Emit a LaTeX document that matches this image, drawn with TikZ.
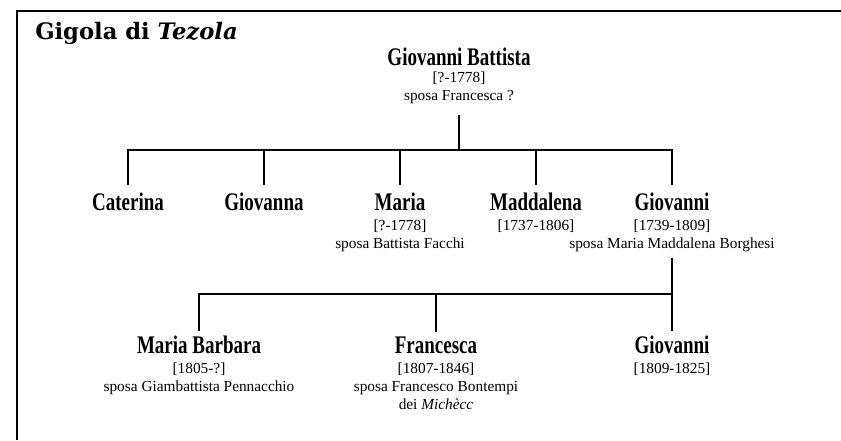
\documentclass[tikz,border=0pt]{standalone}
\usepackage{fontspec}
\newfontfamily\titlefam{DejaVu Serif}
\newfontfamily\namefam{Liberation Serif}[FakeStretch=0.75]
\newfontfamily\infofam{Liberation Serif}

\begin{document}
\begin{tikzpicture}[
    x=0.75pt, y=-0.75pt,
    title/.style={font=\titlefam\bfseries\fontsize{17}{20}\selectfont, inner sep=0pt, anchor=base west},
    person/.style={font=\namefam\bfseries\fontsize{19}{21}\selectfont, inner sep=0pt, anchor=base},
    info/.style={font=\infofam\fontsize{11.5}{13.5}\selectfont, align=center, inner sep=0pt, anchor=north},
    link/.style={draw, line width=0.8pt},
    frame/.style={draw, line width=1.1pt}
]
\useasboundingbox (0,0) rectangle (841,440);

% Frame and title
\draw[frame] (841,11) -- (17,11) -- (17,440);
\node[title] (heading) at (35,39) {Gigola di \textit{Tezola}};

% First generation
\node[person] (gb) at (459,65) {Giovanni Battista};
\node[info] (gbinfo) at (459,71.5) {[?-1778]\\sposa Francesca ?};

% Second generation
\node[person] (caterina) at (128,210) {Caterina};
\node[person] (giovanna) at (264,210) {Giovanna};
\node[person] (maria) at (400,210) {Maria};
\node[person] (maddalena) at (536,210) {Maddalena};
\node[person] (giovanni) at (672,210) {Giovanni};
\node[info] (mariainfo) at (400,219.5) {[?-1778]\\sposa Battista Facchi};
\node[info] (maddalenainfo) at (536,219.5) {[1737-1806]};
\node[info] (giovanniinfo) at (672,219.5) {[1739-1809]\\sposa Maria Maddalena Borghesi};

% Third generation
\node[person] (barbara) at (199,353) {Maria Barbara};
\node[person] (francesca) at (436,353) {Francesca};
\node[person] (giovannijr) at (672,353) {Giovanni};
\node[info] (barbarainfo) at (199,362.5) {[1805-?]\\sposa Giambattista Pennacchio};
\node[info] (francescainfo) at (436,362.5) {[1807-1846]\\sposa Francesco Bontempi\\dei \textit{Michècc}};
\node[info] (giovannijrinfo) at (672,362.5) {[1809-1825]};

% Fork points
\coordinate (fork1) at (459,150);
\coordinate (fork2) at (672,294);

% Children of Giovanni Battista
\draw[link, shorten <=8pt] (gbinfo.south) -- (fork1);
\foreach \kid in {caterina, giovanna, maria, maddalena, giovanni}
    \draw[link, shorten >=5pt] (fork1) -| (\kid.north);

% Children of Giovanni
\draw[link, shorten <=4.5pt] (giovanniinfo.south) -- (fork2);
\foreach \kid in {barbara, francesca, giovannijr}
    \draw[link, shorten >=3pt] (fork2) -| (\kid.north);

\end{tikzpicture}
\end{document}
